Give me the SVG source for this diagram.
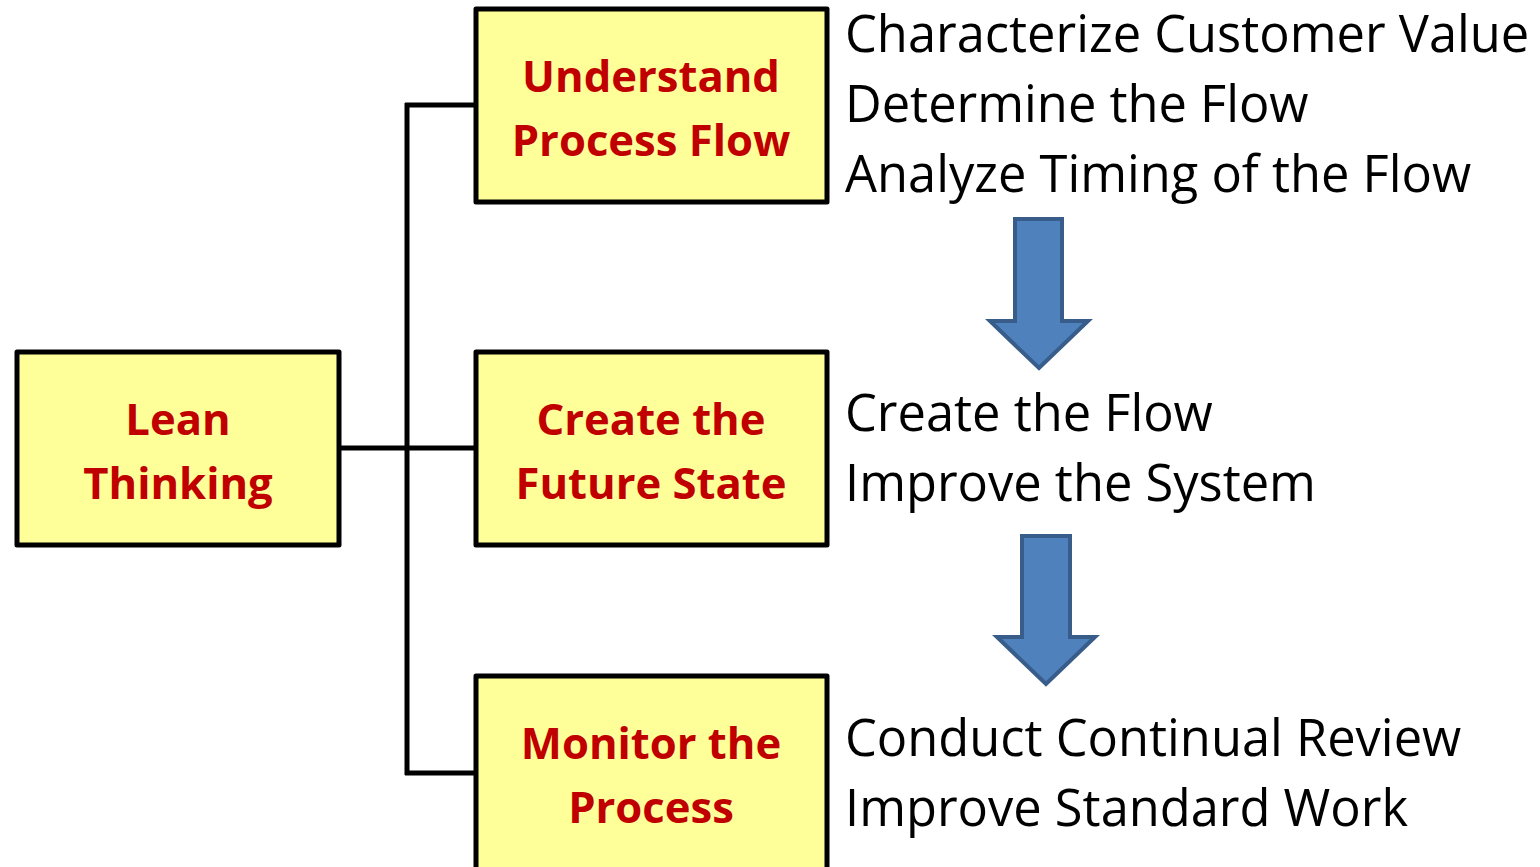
<svg xmlns="http://www.w3.org/2000/svg" width="1540" height="867" viewBox="0 0 1540 867">
  <style>
    .box { fill: #FFFF99; stroke: #000000; stroke-width: 5; stroke-linejoin: round; }
    .label { font-family: "Open Sans", "Liberation Sans", sans-serif; font-weight: bold; font-size: 43.6px; fill: #C00000; text-anchor: middle; }
    .item { font-family: "Open Sans", "Liberation Sans", sans-serif; font-size: 50.6px; fill: #000000; }
    .wire { fill: none; stroke: #000000; stroke-width: 5; }
    .down { fill: #4F81BD; stroke: #385D8A; stroke-width: 4; }
  </style>

  <rect x="0" y="0" width="1540" height="867" fill="#FFFFFF"/>

  <!-- tree connectors -->
  <g id="connectors">
    <line class="wire" x1="339" y1="448" x2="476" y2="448"/>
    <line class="wire" x1="407" y1="103" x2="407" y2="775"/>
    <line class="wire" x1="405" y1="105" x2="476" y2="105"/>
    <line class="wire" x1="405" y1="773" x2="476" y2="773"/>
  </g>

  <g id="lean-thinking">
    <rect class="box" x="17" y="352" width="322" height="193"/>
    <text class="label" x="178" y="435">Lean</text>
    <text class="label" x="178" y="499">Thinking</text>
  </g>

  <g id="understand-process-flow">
    <rect class="box" x="476" y="9" width="351" height="193"/>
    <text class="label" x="651" y="92">Understand</text>
    <text class="label" x="651" y="156">Process Flow</text>
  </g>

  <g id="create-future-state">
    <rect class="box" x="476" y="352" width="351" height="193"/>
    <text class="label" x="651" y="435">Create the</text>
    <text class="label" x="651" y="499">Future State</text>
  </g>

  <g id="monitor-process">
    <rect class="box" x="476" y="676" width="351" height="196"/>
    <text class="label" x="651" y="759">Monitor the</text>
    <text class="label" x="651" y="823">Process</text>
  </g>

  <g id="understand-steps">
    <text class="item" x="845" y="52">Characterize Customer Value</text>
    <text class="item" x="845" y="122">Determine the Flow</text>
    <text class="item" x="845" y="192">Analyze Timing of the Flow</text>
  </g>

  <g id="create-steps">
    <text class="item" x="845" y="431">Create the Flow</text>
    <text class="item" x="845" y="501">Improve the System</text>
  </g>

  <g id="monitor-steps">
    <text class="item" x="845" y="756">Conduct Continual Review</text>
    <text class="item" x="845" y="826">Improve Standard Work</text>
  </g>

  <!-- block arrows between stages -->
  <g id="arrow-1">
    <polygon class="down" points="1015,219 1062,219 1062,321 1088,321 1039,368 990,321 1015,321"/>
  </g>
  <g id="arrow-2">
    <polygon class="down" points="1022,536 1070,536 1070,637 1095,637 1046,684 997,637 1022,637"/>
  </g>
</svg>
